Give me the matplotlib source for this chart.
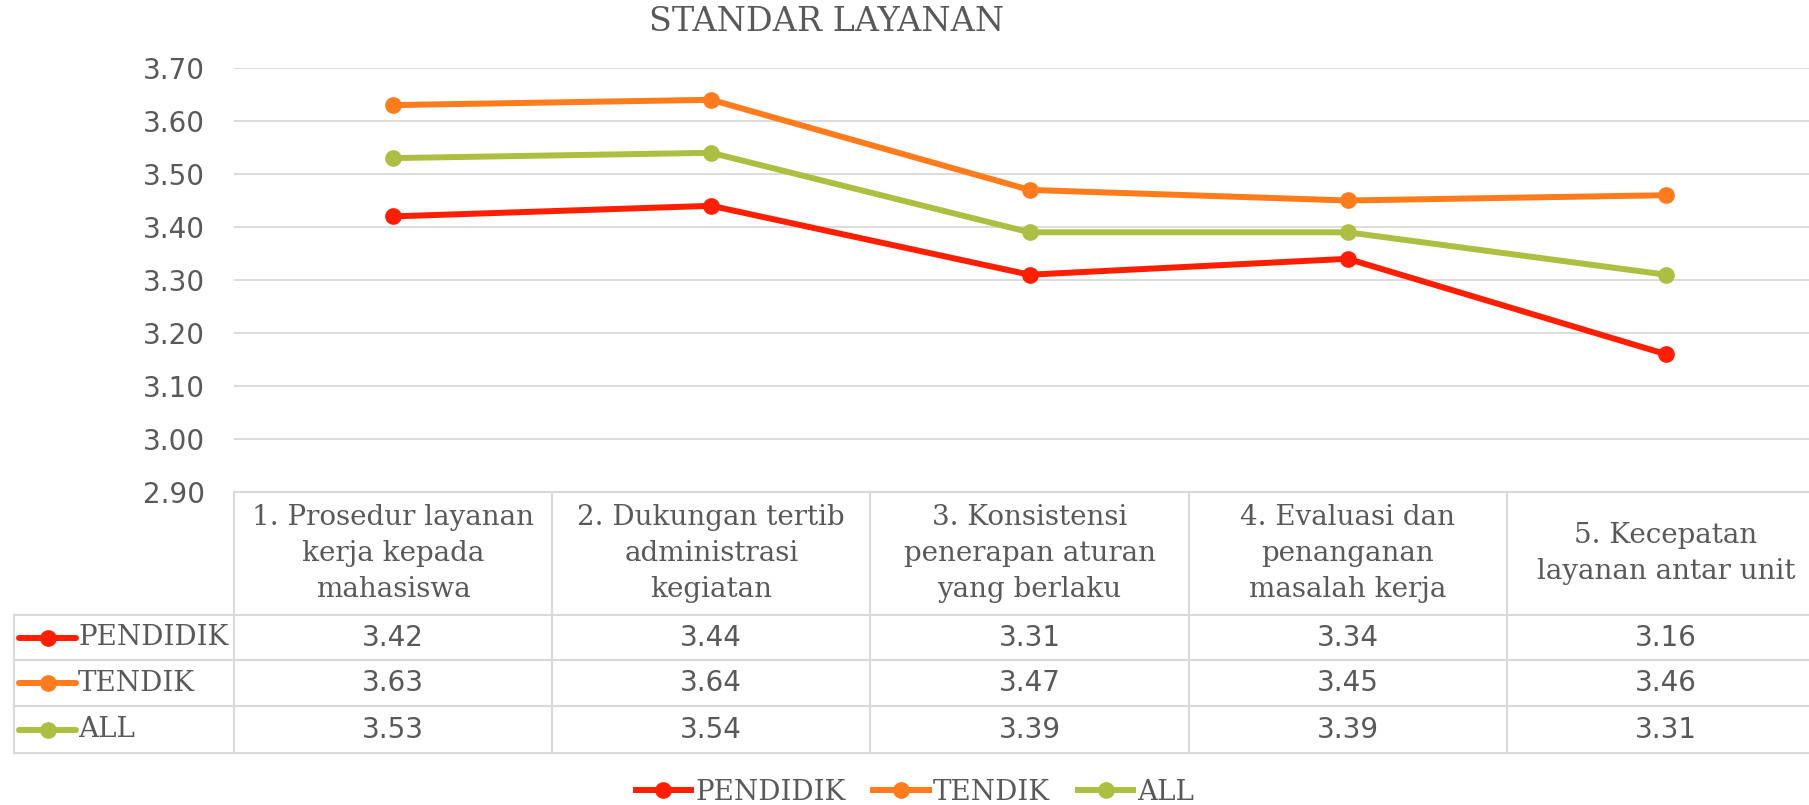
import matplotlib.pyplot as plt
from matplotlib.transforms import blended_transform_factory
from matplotlib.lines import Line2D

# data
categories = [
    "1. Prosedur layanan\nkerja kepada\nmahasiswa",
    "2. Dukungan tertib\nadministrasi\nkegiatan",
    "3. Konsistensi\npenerapan aturan\nyang berlaku",
    "4. Evaluasi dan\npenanganan\nmasalah kerja",
    "5. Kecepatan\nlayanan antar unit",
]
series_names = ["PENDIDIK", "TENDIK", "ALL"]
pendidik = [3.42, 3.44, 3.31, 3.34, 3.16]
tendik = [3.63, 3.64, 3.47, 3.45, 3.46]
all_staff = [3.53, 3.54, 3.39, 3.39, 3.31]
y_ticks = [2.90, 3.00, 3.10, 3.20, 3.30, 3.40, 3.50, 3.60, 3.70]
title = "STANDAR LAYANAN"

series = [pendidik, tendik, all_staff]
colors = ['#FF1F00', '#FF7B1C', '#ADBF40']
text_color = '#595959'
grid_color = '#D9D9D9'
serif = 'DejaVu Serif'
sans = 'DejaVu Sans'
lw, ms = 4.3, 11

W, H = 1809, 805
fig = plt.figure(figsize=(W / 100, H / 100), dpi=100)

# plot area (runs off the right edge like the original)
ax = fig.add_axes([234 / W, (H - 492) / H, (1825 - 234) / W, 424 / H])
ax.set_xlim(-0.5, len(categories) - 0.5)
ax.set_ylim(y_ticks[0], y_ticks[-1])
for s in ax.spines.values():
    s.set_visible(False)
ax.set_yticks(y_ticks)
ax.set_yticklabels([f"{t:.2f}" for t in y_ticks], fontfamily=sans)
ax.set_xticks([])
ax.tick_params(axis='y', length=0, pad=21, labelsize=20, labelcolor=text_color)
ax.grid(axis='y', color=grid_color, lw=1.3)
ax.set_axisbelow(True)

for vals, col in zip(series, colors):
    ax.plot(range(len(vals)), vals, color=col, lw=lw, marker='o', ms=ms,
            solid_capstyle='round', clip_on=False, zorder=3)

# overlay in pixel units for the data table
tab = fig.add_axes([0, 0, 1, 1])
tab.set_xlim(0, W)
tab.set_ylim(H, 0)
tab.axis('off')
tab.patch.set_visible(False)
bt = blended_transform_factory(ax.transData, tab.transData)

head_top, head_bot = 492, 615
row_edges = [615, 660, 706, 753]
n = len(categories)

# grid lines of the table
tab.plot([-0.5, n - 0.5], [head_top, head_top], color=grid_color, lw=1.5,
         transform=bt, clip_on=False)
for y in row_edges:
    tab.plot([14, W], [y, y], color=grid_color, lw=1.5)
tab.plot([14, 14], [row_edges[0], row_edges[-1]], color=grid_color, lw=1.5)
for i in range(n + 1):
    tab.plot([i - 0.5, i - 0.5], [head_top, row_edges[-1]], color=grid_color,
             lw=1.5, transform=bt, clip_on=False)

# header cells
for i, cat in enumerate(categories):
    tab.text(i, (head_top + head_bot) / 2, cat, transform=bt, ha='center',
             va='center', fontsize=20, family=serif, color=text_color,
             linespacing=1.42)

# rows
for r, (name, vals, col) in enumerate(zip(series_names, series, colors)):
    yc = (row_edges[r] + row_edges[r + 1]) / 2
    tab.add_line(Line2D([19, 76], [yc, yc], color=col, lw=lw,
                        solid_capstyle='round'))
    tab.plot([47.5], [yc], 'o', color=col, ms=ms)
    tab.text(78, yc, name, ha='left', va='center', fontsize=20, family=serif,
             color=text_color)
    for i, v in enumerate(vals):
        tab.text(i, yc, f"{v:.2f}", transform=bt, ha='center', va='center',
                 fontsize=20, family=sans, color=text_color)

# legend
handles = [Line2D([], [], color=c, lw=lw, marker='o', ms=ms) for c in colors]
fig.legend(handles, series_names, loc='center', ncol=3, frameon=False,
           bbox_to_anchor=(915 / W, (H - 792) / H), handlelength=2.0,
           handletextpad=0.15, columnspacing=1.0,
           prop={'family': serif, 'size': 20}, labelcolor=text_color)

fig.text(827 / W, (H - 22) / H, title, ha='center', va='center', fontsize=24,
         family=serif, color=text_color)

fig.savefig('out.png', dpi=100, facecolor='white')
